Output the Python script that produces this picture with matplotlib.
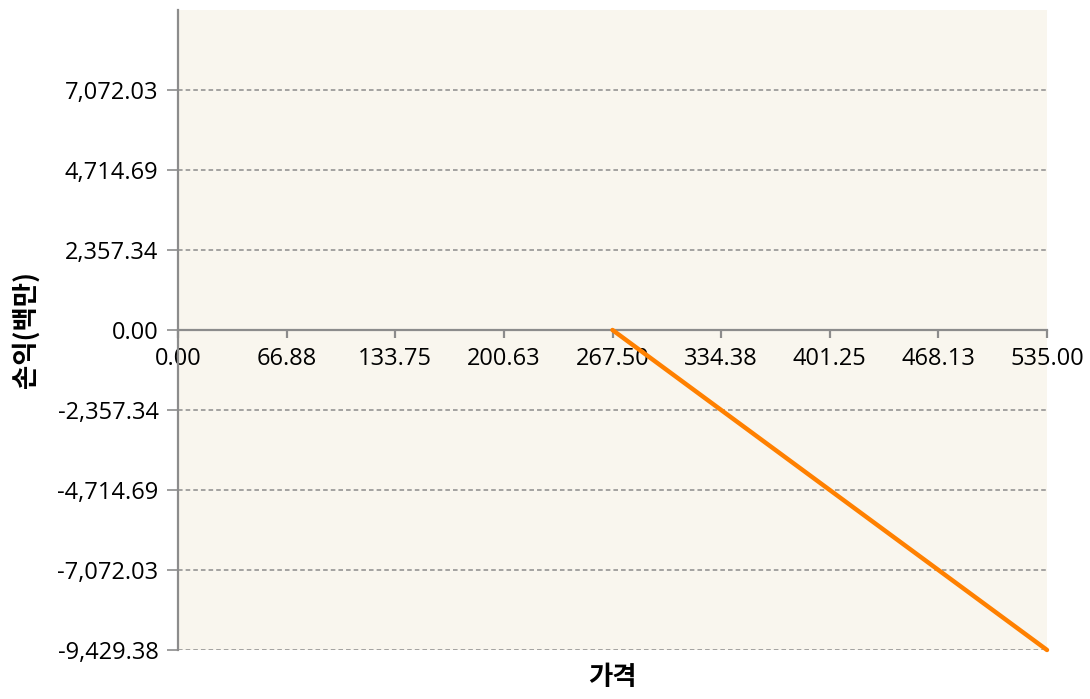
import matplotlib
matplotlib.use("Agg")
import matplotlib.pyplot as plt

# Data
price = [267.5, 535.0]
profit = [0.0, -9429.38]

x_ticks = [0.0, 66.875, 133.75, 200.625, 267.5, 334.375, 401.25, 468.125, 535.0]
x_tick_labels = ["0.00", "66.88", "133.75", "200.63", "267.50", "334.38", "401.25", "468.13", "535.00"]
y_ticks = [-9429.38, -7072.03, -4714.69, -2357.34, 0.0, 2357.34, 4714.69, 7072.03]
y_tick_labels = ["-9,429.38", "-7,072.03", "-4,714.69", "-2,357.34", "0.00", "2,357.34", "4,714.69", "7,072.03"]

x_label = "가격"
y_label = "손익(백만)"

plt.rcParams['font.family'] = ['Open Sans', 'Noto Sans CJK KR', 'DejaVu Sans']

fig = plt.figure(figsize=(10.9, 6.99), dpi=100)
ax = fig.add_axes([178/1090, 49/699, (1047-178)/1090, (650-10)/699])
ax.set_facecolor("#F9F6EE")

for s in ["top", "right"]:
    ax.spines[s].set_visible(False)
ax.spines["bottom"].set_position(("data", 0))
ax.spines["bottom"].set_color("#8C8C8C")
ax.spines["bottom"].set_linewidth(1.6)
ax.spines["left"].set_color("#8C8C8C")
ax.spines["left"].set_linewidth(1.6)

ax.set_xlim(0, 535.0)
ax.set_ylim(-9429.38, 9429.38)

ax.set_yticks(y_ticks)
ax.set_yticklabels(y_tick_labels, fontsize=17)
ax.set_xticks(x_ticks)
ax.set_xticklabels(x_tick_labels, fontsize=17)

for yv in y_ticks:
    if yv != 0.0:
        ax.axhline(yv, color="#8C8C8C", linestyle=(0, (3, 2)), linewidth=1.1, zorder=1)

ax.plot(price, profit, color="#FF8000", linewidth=3.2, solid_capstyle="round", zorder=3, clip_on=False)

ax.tick_params(axis="y", direction="out", length=8, width=1.2, color="#8C8C8C", pad=6)
ax.tick_params(axis="x", direction="out", length=6, width=1.6, color="#8C8C8C", pad=6)

ax.set_xlabel(x_label, fontsize=19, fontweight="bold", family=['Noto Sans CJK KR'], va="top")
ax.xaxis.set_label_coords(0.5, (650 - 664) / 640)
ax.set_ylabel(y_label, fontsize=19, fontweight="bold", family=['Noto Sans CJK KR'])
ax.yaxis.set_label_coords((40 - 178) / 869, 0.5)

fig.savefig("out.png", dpi=100)
